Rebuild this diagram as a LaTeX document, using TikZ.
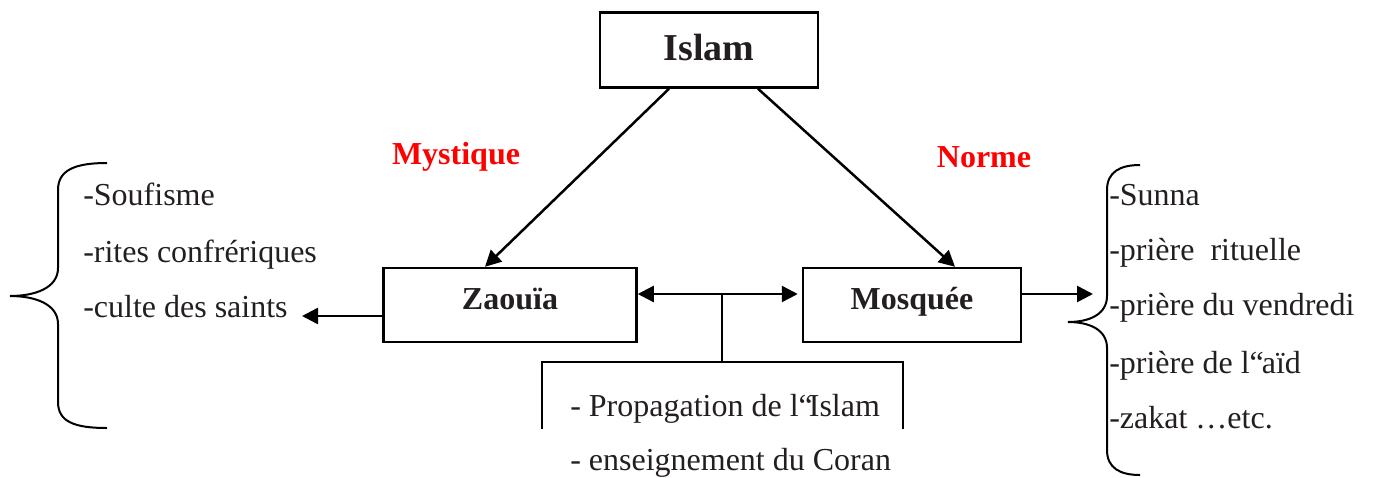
\documentclass[tikz,border=0pt]{standalone}
\usepackage{fontspec}
\setmainfont{Liberation Serif}
\usetikzlibrary{positioning, calc, arrows.meta}
\definecolor{inkgray}{HTML}{231F20}

\begin{document}
\begin{tikzpicture}[x=1pt, y=-1pt, line width=2.5pt, inkgray]
  \useasboundingbox (0,0) rectangle (1375,477);

  % --- Styles ---
  \tikzset{
    main box/.style={draw=black, rectangle, minimum height=74pt, inner sep=0pt, text height=22pt, text depth=14pt, font=\fontsize{32}{40}\selectfont\bfseries},
    branch label/.style={text=red, inner sep=0pt, font=\fontsize{32}{40}\selectfont\bfseries},
    list item/.style={anchor=base west, inner sep=0pt, font=\fontsize{32}{40}\selectfont},
    link/.style={draw=black, -{Triangle[length=16pt, width=16pt]}},
    both link/.style={draw=black, {Triangle[length=16pt, width=16pt]}-{Triangle[length=16pt, width=16pt]}},
    brace/.style={draw=black, line width=2pt}
  }

  % --- The three institutions ---
  \node[main box, minimum width=218pt, minimum height=75pt, text height=26pt, text depth=6pt, font=\fontsize{38}{44}\selectfont\bfseries] (Islam) at (709,50) {Islam};
  \node[main box, minimum width=253pt] (Zaouia) at (510,305) {Zaouïa};
  \node[main box, minimum width=218pt] (Mosquee) at (912,305) {Mosquée};

  % --- Branch labels ---
  \node[branch label] (mystique) at (456,157) {Mystique};
  \node[branch label] (norme) at (984,157) {Norme};

  % --- Arrows from Islam ---
  \draw[link] ($(Islam.south)+(-40,0)$) -- ($(Zaouia.north)+(-25,0)$);
  \draw[link] ($(Islam.south)+(49,0)$) -- ($(Mosquee.north)+(43,0)$);

  % --- Shared roles between Zaouia and Mosquee ---
  \coordinate (junction) at (722,294);
  \coordinate (roleTop) at (722,362);
  \coordinate (roleTL) at (542,362);
  \coordinate (roleTR) at (903,362);
  \draw[both link] (Zaouia.east |- junction) -- ($(Mosquee.west |- junction)+(-4,0)$);
  \draw[black] (junction) -- (roleTop);
  \draw[black] (542,429) -- (roleTL) -- (roleTR) -- (903,429);
  \node[list item] (propagation) at (569,416) {- Propagation de l“\kern-4pt Islam};
  \node[list item] (coran) at (569,470) {- enseignement du Coran};

  % --- Zaouia side ---
  \coordinate (saints) at (302,316);
  \draw[link] ($(Zaouia.west)+(0,11)$) -- (saints);
  \draw[brace] (107,163) .. controls (75,163) and (58,170) .. (58,190) -- (58,268)
    .. controls (58,288) and (35,296) .. (10,296)
    .. controls (35,296) and (58,304) .. (58,324) -- (58,402)
    .. controls (58,422) and (75,428) .. (107,428);
  \node[list item] (soufisme) at (82,205) {-Soufisme};
  \node[list item] (rites) at (82,262) {-rites confrériques};
  \node[list item] (culte) at (82,317) {-culte des saints};

  % --- Mosquee side ---
  \coordinate (norms) at (1093,294);
  \draw[link] ($(Mosquee.east)+(0,-11)$) -- (norms);
  \draw[brace] (1140,165) .. controls (1120,165) and (1107,172) .. (1107,190) -- (1107,296)
    .. controls (1107,314) and (1090,322) .. (1068,322)
    .. controls (1090,322) and (1107,330) .. (1107,348) -- (1107,450)
    .. controls (1107,468) and (1120,475) .. (1140,475);
  \node[list item] (sunna) at (1108,205) {-Sunna};
  \node[list item] (rituelle) at (1108,260) {-prière\ \ rituelle};
  \node[list item] (vendredi) at (1108,315) {-prière du vendredi};
  \node[list item] (aid) at (1108,373) {-prière de l“\kern-2pt aïd};
  \node[list item] (zakat) at (1108,428) {-zakat …etc.};

\end{tikzpicture}
\end{document}
